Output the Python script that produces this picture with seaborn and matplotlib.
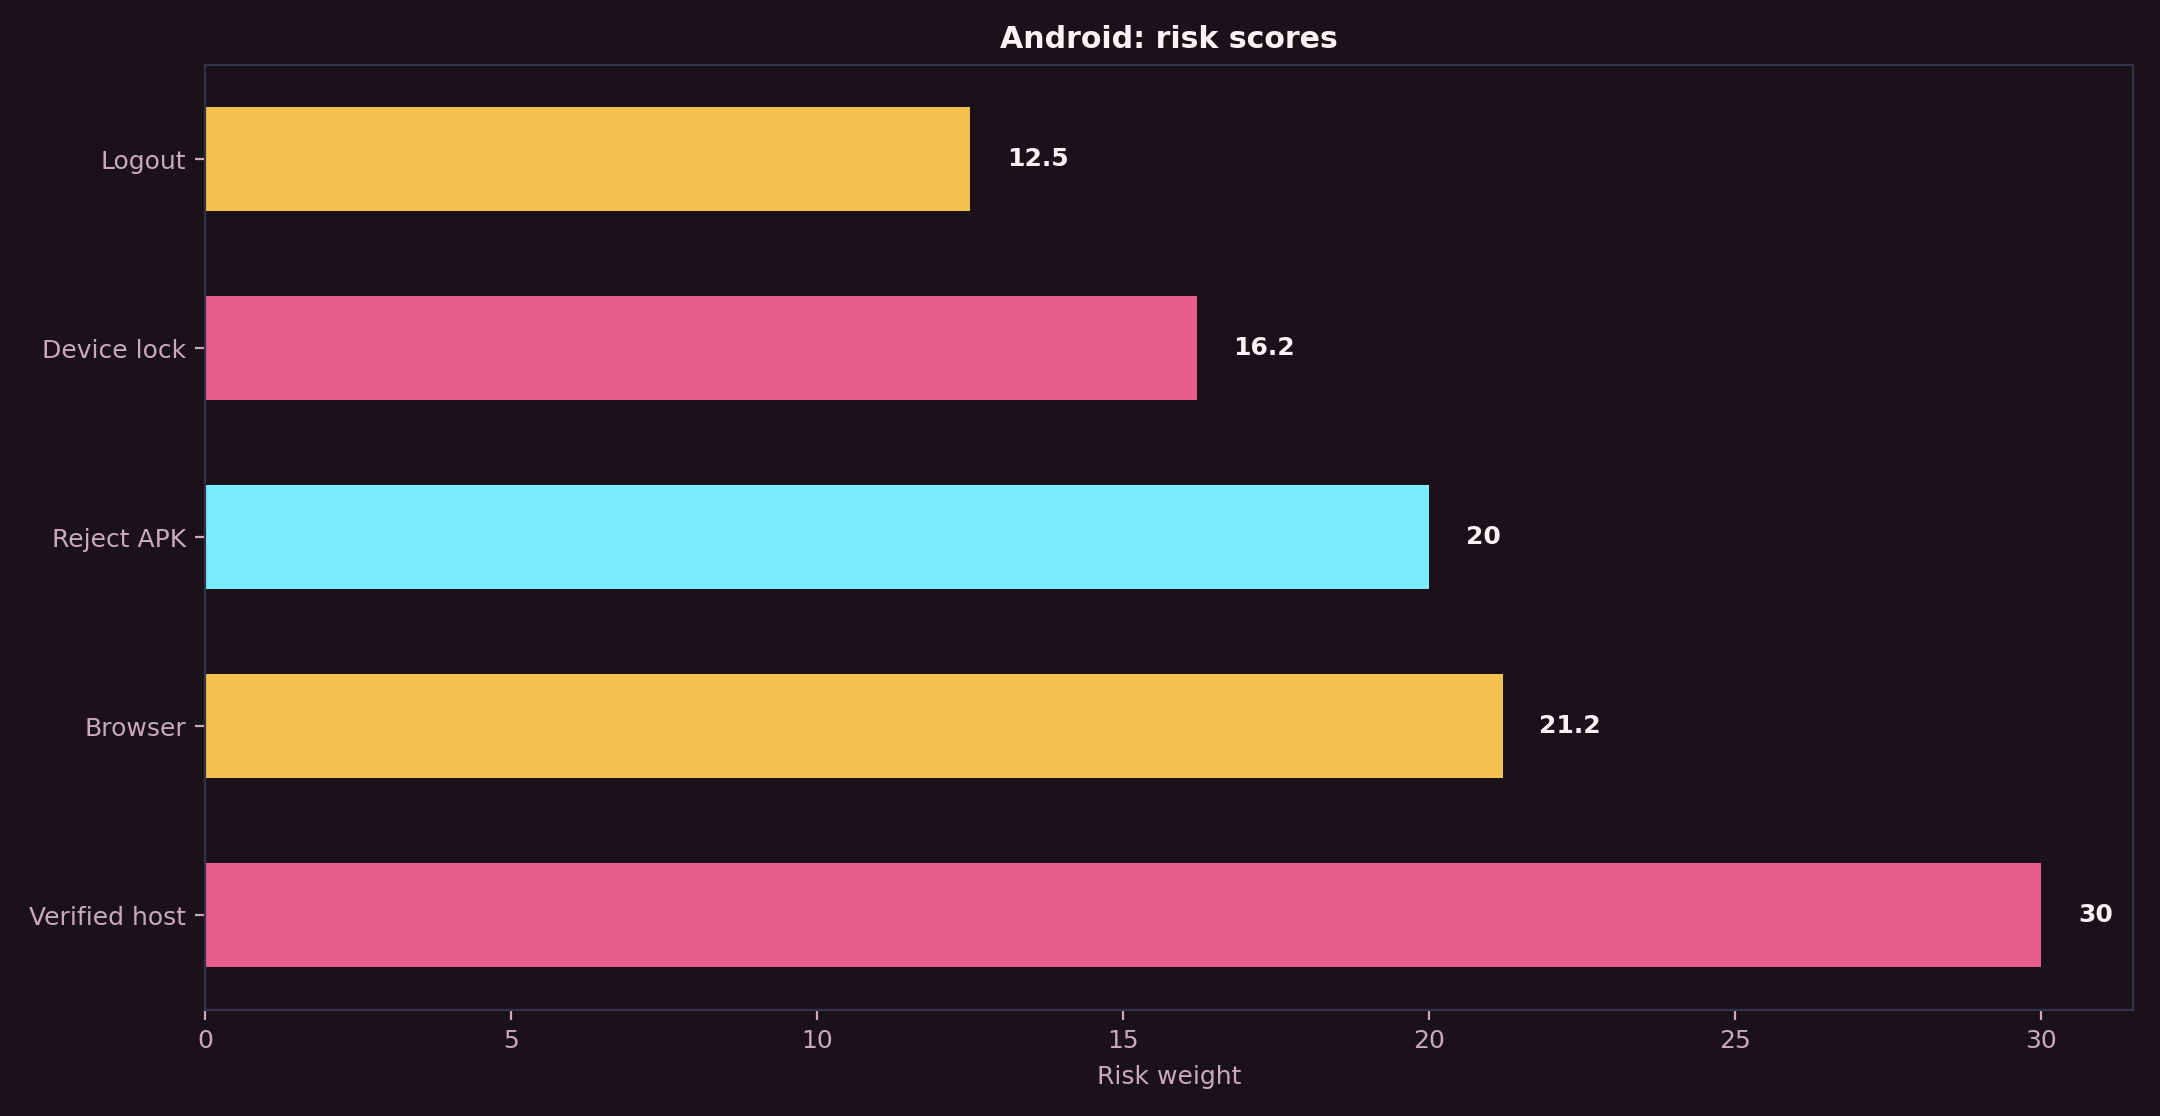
import matplotlib
matplotlib.use("Agg")
import matplotlib.pyplot as plt
import seaborn as sns
import pandas as pd

categories = ["Logout", "Device lock", "Reject APK", "Browser", "Verified host"]
values = [12.5, 16.2, 20, 21.2, 30]
labels = ["12.5", "16.2", "20", "21.2", "30"]
colors = ["#f2c14e", "#e85d8a", "#7cedfd", "#f2c14e", "#e85d8a"]

BG = "#1b1118"
SPINE = "#33324a"
TXT = "#c9aab8"
TITLE = "#fbf2f6"

sns.set_theme(style="dark")
plt.rcParams["font.family"] = ["DejaVu Sans"]

fig = plt.figure(figsize=(10.8, 5.58), dpi=200, facecolor=BG)
ax = fig.add_axes([0.095, 0.095, 0.8925, 0.847])
ax.set_facecolor(BG)

df = pd.DataFrame({"cat": categories, "val": values})
sns.barplot(data=df, x="val", y="cat", hue="cat", palette=colors, legend=False,
            orient="h", width=0.55, saturation=1, linewidth=0, edgecolor="none", ax=ax)

for i, (v, t) in enumerate(zip(values, labels)):
    ax.text(v + 0.6, i, t, ha="left", va="center", color=TITLE,
            fontsize=9, fontweight="bold")

ax.set_xlim(0, 31.5)
ax.set_ylim(4.5, -0.5)
ax.set_xticks([0, 5, 10, 15, 20, 25, 30])
ax.set_xlabel("Risk weight", color=TXT, fontsize=9, labelpad=4)
ax.set_ylabel("")
ax.set_title("Android: risk scores", color=TITLE, fontsize=10.8, fontweight="bold", pad=6)
ax.tick_params(axis="both", colors=TXT, labelsize=9, length=3.5, width=0.8,
               bottom=True, left=True)
ax.grid(False)
for s in ax.spines.values():
    s.set_visible(True)
    s.set_color(SPINE)
    s.set_linewidth(0.8)

fig.savefig("out.png", dpi=200, facecolor=BG)
